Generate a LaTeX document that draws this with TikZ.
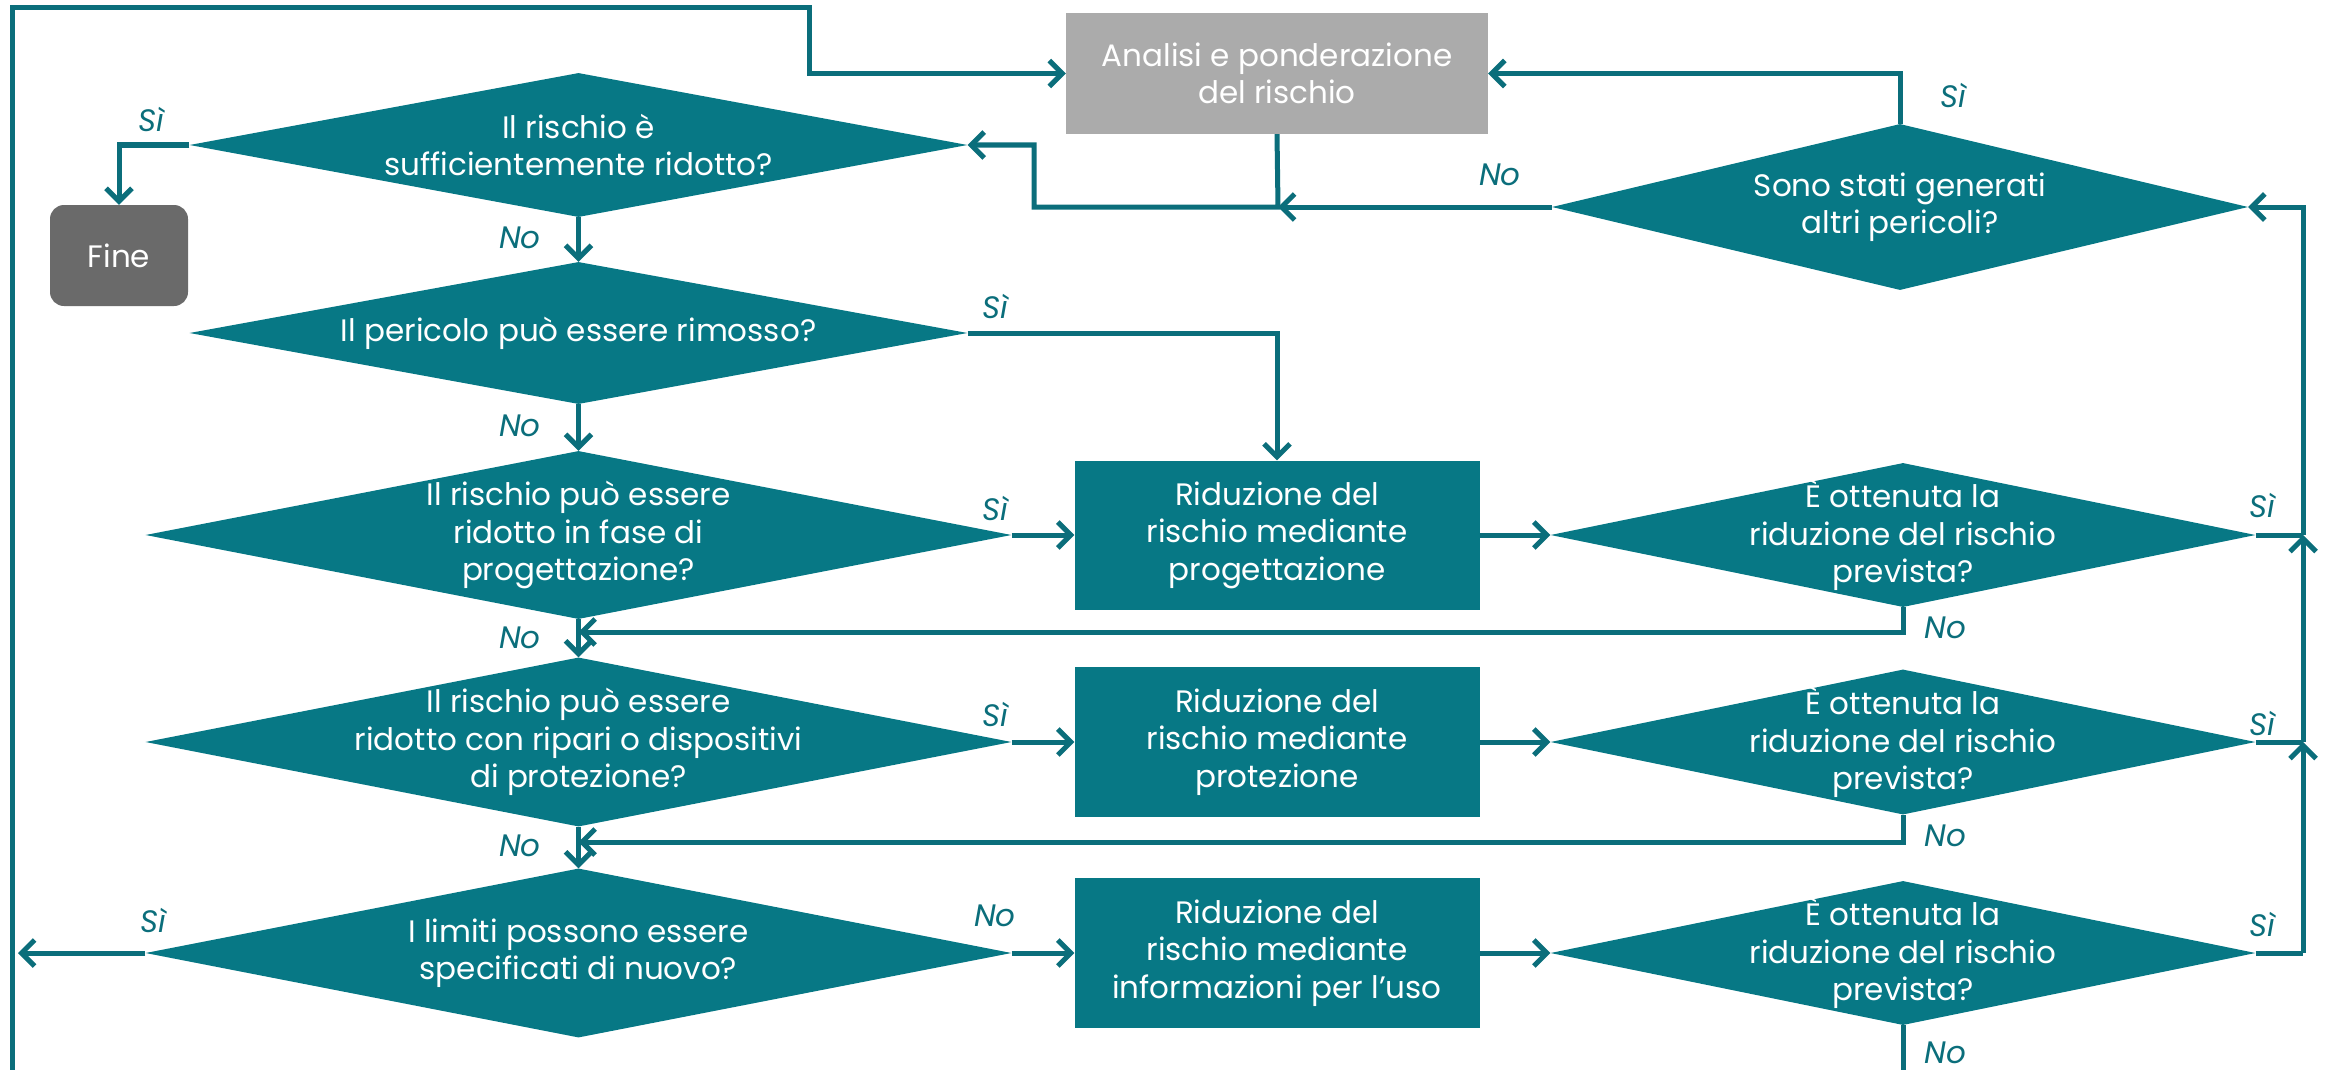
\documentclass[tikz,border=0pt]{standalone}
\usepackage{fontspec}
\setmainfont{Poppins}
\usetikzlibrary{shapes.geometric,arrows.meta}
\definecolor{tealf}{HTML}{077885}
\definecolor{linec}{HTML}{0B6E7B}
\definecolor{grayb}{HTML}{ABABAB}
\definecolor{fineb}{HTML}{6A6A6A}
\newcommand{\fsz}{\fontsize{31}{37.5}\selectfont}
\tikzset{
  dia/.style={diamond, fill=tealf, draw=none, inner sep=0pt},
  pbox/.style={rectangle, fill=tealf, draw=none, inner sep=0pt},
  txt/.style={text=white, align=center, font=\fsz, inner sep=0pt},
  lab/.style={text=linec, font=\fsz\itshape, inner sep=0pt},
  con/.style={draw=linec, line width=5pt},
  arr/.style={con, -{Straight Barb[length=13pt,width=26pt,line width=5pt]}}
}
\begin{document}
\begin{tikzpicture}[x=1pt,y=-1pt]
\useasboundingbox (0,0) rectangle (2328,1070);
% boxes
\node[rectangle, fill=grayb, minimum width=422pt, minimum height=121pt, inner sep=0pt] (an) at (1277,73.5) {};
\node[txt] (tan) at (an) {Analisi e ponderazione\\del rischio};
\node[rectangle, rounded corners=14pt, fill=fineb, minimum width=138pt, minimum height=101pt, inner sep=0pt] (fine) at (119,255.5) {};
\node[txt] (tfine) at (fine) {Fine};
% left diamonds
\node[dia, minimum width=778pt, minimum height=144pt] (d1) at (578.5,145) {};
\node[txt] (td1) at (d1) {Il rischio è\\sufficientemente ridotto?};
\node[dia, minimum width=778pt, minimum height=142pt] (d2) at (578.5,333) {};
\node[txt] (td2) at (d2) {Il pericolo può essere rimosso?};
\node[dia, minimum width=866pt, minimum height=168pt] (d3) at (578.5,535) {};
\node[txt] (td3) at (d3) {Il rischio può essere\\ridotto in fase di\\progettazione?};
\node[dia, minimum width=866pt, minimum height=169pt] (d4) at (578.5,742) {};
\node[txt] (td4) at (d4) {Il rischio può essere\\ridotto con ripari o dispositivi\\di protezione?};
\node[dia, minimum width=866pt, minimum height=169pt] (d5) at (578.5,953) {};
\node[txt] (td5) at (d5) {I limiti possono essere\\specificati di nuovo?};
% middle boxes
\node[pbox, minimum width=405pt, minimum height=149pt] (b1) at (1277,535) {};
\node[txt] (tb1) at (b1) {Riduzione del\\rischio mediante\\progettazione};
\node[pbox, minimum width=405pt, minimum height=150pt] (b2) at (1277,742) {};
\node[txt] (tb2) at (b2) {Riduzione del\\rischio mediante\\protezione};
\node[pbox, minimum width=405pt, minimum height=150pt] (b3) at (1277,953) {};
\node[txt] (tb3) at (b3) {Riduzione del\\rischio mediante\\informazioni per l’uso};
% right diamonds
\node[dia, minimum width=696pt, minimum height=166pt] (so) at (1900,207) {};
\node[txt] (tso) at (so) {Sono stati generati\\altri pericoli?};
\node[dia, minimum width=705pt, minimum height=144pt] (c1) at (1903,535) {};
\node[txt] (tc1) at (c1) {È ottenuta la\\riduzione del rischio\\prevista?};
\node[dia, minimum width=705pt, minimum height=145pt] (c2) at (1903,742) {};
\node[txt] (tc2) at (c2) {È ottenuta la\\riduzione del rischio\\prevista?};
\node[dia, minimum width=705pt, minimum height=144pt] (c3) at (1903,953) {};
\node[txt] (tc3) at (c3) {È ottenuta la\\riduzione del rischio\\prevista?};
% coordinates
\coordinate (lb) at (12,1070);
\coordinate (ltop) at (809,8);
\coordinate (j0) at (1278,207);
\coordinate (k0) at (1034,207);
\coordinate (j1) at (578.5,632);
\coordinate (j2) at (578.5,842);
\coordinate (l5) at (18,953);
\coordinate (r1) at (2303,535);
\coordinate (r2) at (2303,742);
\coordinate (r3) at (2303,953);
\coordinate (c3b) at (1903,1070);
% connectors
\draw[arr] (lb) |- (ltop) |- (an.west);
\draw[arr] (d1.west) -| (fine.north);
\draw[arr] (d1.south) -- (d2.north);
\draw[arr] (d2.east) -| (b1.north);
\draw[arr] (d2.south) -- (d3.north);
\draw[arr] (d3.south) -- (d4.north);
\draw[arr] (d4.south) -- (d5.north);
\draw[arr] (d3.east) -- (b1.west);
\draw[arr] (d4.east) -- (b2.west);
\draw[arr] (d5.east) -- (b3.west);
\draw[arr] (b1.east) -- (c1.west);
\draw[arr] (b2.east) -- (c2.west);
\draw[arr] (b3.east) -- (c3.west);
\draw[arr] (d5.west) -- (l5);
\draw[arr] (c1.south) |- (j1);
\draw[arr] (c2.south) |- (j2);
\draw[con] (c3.south) -- (c3b);
\draw[con] (c3.east) -- (r3);
\draw[arr] (r3) -- (r2);
\draw[con] (c2.east) -- (r2);
\draw[arr] (r2) -- (r1);
\draw[con] (c1.east) -- (r1);
\draw[arr] (r1) |- (so.east);
\draw[arr] (so.north) |- (an.east);
\draw[arr] (so.west) -- (j0);
\draw[arr] (an.south) -- (j0) -- (k0) |- (d1.east);
% labels
\node[lab] (s1) at (151,119) {Sì};
\node[lab] (n1) at (520,238) {No};
\node[lab] (s2) at (995,306) {Sì};
\node[lab] (n2) at (520,426) {No};
\node[lab] (s3) at (995,508) {Sì};
\node[lab] (n3) at (520,638) {No};
\node[lab] (s4) at (995,714) {Sì};
\node[lab] (n4) at (520,846) {No};
\node[lab] (s5) at (153,920) {Sì};
\node[lab] (n5) at (995,916) {No};
\node[lab] (cs1) at (2262,505) {Sì};
\node[lab] (cn1) at (1945,628) {No};
\node[lab] (cs2) at (2262,723) {Sì};
\node[lab] (cn2) at (1945,836) {No};
\node[lab] (cs3) at (2262,924) {Sì};
\node[lab] (cn3) at (1945,1053) {No};
\node[lab] (son) at (1500,175) {No};
\node[lab] (sos) at (1953,95) {Sì};
\end{tikzpicture}
\end{document}
